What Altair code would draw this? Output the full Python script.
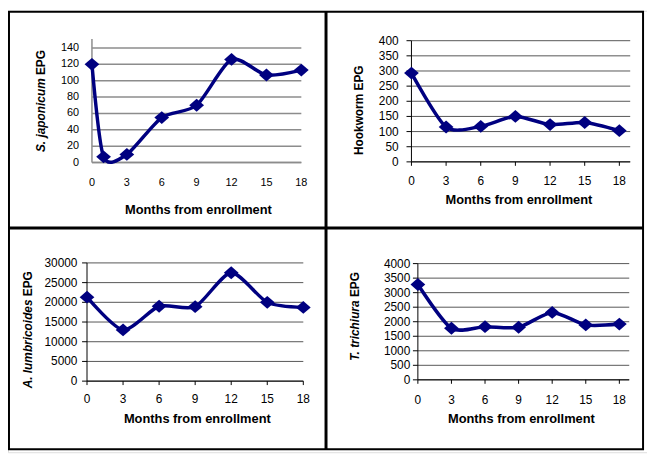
import altair as alt
import pandas as pd

# ---------------- data ----------------
months_sj = [0, 1, 3, 6, 9, 12, 15, 18]
sj_epg = [120, 7, 10, 55, 70, 126, 107, 113]

months = [0, 3, 6, 9, 12, 15, 18]
hook_epg = [293, 115, 117, 150, 123, 130, 103]
asc_epg = [21300, 13000, 19000, 18900, 27500, 20000, 18700]
tri_epg = [3280, 1775, 1830, 1810, 2320, 1890, 1920]

x_ticks = [0, 3, 6, 9, 12, 15, 18]
sj_ticks = [0, 20, 40, 60, 80, 100, 120, 140]
hook_ticks = [0, 50, 100, 150, 200, 250, 300, 350, 400]
asc_ticks = [0, 5000, 10000, 15000, 20000, 25000, 30000]
tri_ticks = [0, 500, 1000, 1500, 2000, 2500, 3000, 3500, 4000]

x_title = "Months from enrollment"
sj_title = ["S. japonicum", "EPG"]
hook_title = ["Hookworm EPG"]
asc_title = ["A. lumbricoides", "EPG"]
tri_title = ["T. trichiura", "EPG"]

# ---------------- styling ----------------
FONT = "Liberation Sans"
NAVY = "#000080"
DIAMOND = "M-1.15,0L0,-1L1.15,0L0,1Z"
W, H = 647, 447


def one(text=""):
    return pd.DataFrame({"t": [text]})


def title_text(text, x, y, angle=0, align="center", italic=False, size=12):
    return alt.Chart(one(text)).mark_text(
        font=FONT, fontSize=size, fontWeight="bold",
        fontStyle="italic" if italic else "normal",
        angle=angle, align=align, baseline="middle", color="black",
    ).encode(text="t:N", x=alt.value(x), y=alt.value(y))


def vrule(x, y1, y2, color="black", width=1.0):
    return alt.Chart(one()).mark_rule(color=color, strokeWidth=width).encode(
        x=alt.value(x), y=alt.value(y1), y2=alt.value(y2))


def hrule(y, x1, x2, color="black", width=1.0):
    return alt.Chart(one()).mark_rule(color=color, strokeWidth=width).encode(
        y=alt.value(y), x=alt.value(x1), x2=alt.value(x2))


def panel(mo, vals, yticks, ymax, x0, x18, xgrid, ytop, ybot, first,
          ylab_gap, xlab_y, lab_size, ytitle, ytitle_pos, xtitle_pos):
    sx = alt.Scale(domain=[0, 18], range=[x0, x18], nice=False, zero=False)
    sy = alt.Scale(domain=[0, ymax], range=[ybot, ytop], nice=False, zero=False)
    df = pd.DataFrame({"m": mo, "v": vals})
    dy = pd.DataFrame({"v": yticks})
    dx = pd.DataFrame({"m": x_ticks})
    X = alt.X("m:Q", scale=sx, axis=None)
    Y = alt.Y("v:Q", scale=sy, axis=None)

    gcol, gw = ("#8c8c8c", 1.5) if first else ("#555555", 1.0)
    layers = []
    layers.append(alt.Chart(dy).mark_rule(color=gcol, strokeWidth=gw).encode(
        y=Y, x=alt.value(x0), x2=alt.value(xgrid)))
    if first:
        layers.append(vrule(x0, ytop - 9, ybot, color="#8c8c8c", width=1.5))
        layers.append(hrule(ybot, x0, xgrid, color="#8c8c8c", width=1.5))
    else:
        layers.append(alt.Chart(dy).mark_rule(color="black", strokeWidth=1).encode(
            y=Y, x=alt.value(x0 - 5), x2=alt.value(x0)))
        layers.append(alt.Chart(dx).mark_rule(color="black", strokeWidth=1).encode(
            x=X, y=alt.value(ybot), y2=alt.value(ybot + 4)))
        layers.append(vrule(x0, ytop, ybot))
        layers.append(hrule(ybot, x0, xgrid))
    layers.append(alt.Chart(dy).mark_text(
        align="right", baseline="middle", font=FONT, fontSize=lab_size, color="black"
    ).encode(y=Y, x=alt.value(x0 - ylab_gap), text=alt.Text("v:Q", format="d")))
    layers.append(alt.Chart(dx).mark_text(
        align="center", baseline="middle", font=FONT, fontSize=lab_size, color="black"
    ).encode(x=X, y=alt.value(xlab_y), text=alt.Text("m:Q", format="d")))

    base = alt.Chart(df).encode(x=X, y=Y)
    layers.append(base.mark_line(interpolate="cardinal", tension=0.25, color=NAVY,
                                 strokeWidth=3.5, strokeJoin="round"))
    layers.append(base.mark_point(shape=DIAMOND, filled=True, size=169, color=NAVY,
                                  opacity=1, strokeWidth=0))

    tx = ytitle_pos[0]
    if len(ytitle) == 1:
        layers.append(title_text(ytitle[0], tx, ytitle_pos[1], angle=270))
    else:
        layers.append(title_text(ytitle[0], tx, ytitle_pos[2], angle=270,
                                 align="right", italic=True))
        layers.append(title_text(ytitle[1], tx, ytitle_pos[1], angle=270, align="left"))
    layers.append(title_text(x_title, xtitle_pos[0], xtitle_pos[1], size=13))
    return alt.layer(*layers)


pA = panel(months_sj, sj_epg, sj_ticks, 140, 85, 297, 297, 37.7, 153.7, True,
           13, 174.7, 11, sj_title, (33.7, 65.1, 68.4), (192.8, 201.3))
pB = panel(months, hook_epg, hook_ticks, 400, 408.5, 619, 630, 30.3, 153, False,
           13, 172, 12, hook_title, (355.7, 100.7), (517.3, 192))
pC = panel(months, asc_epg, asc_ticks, 30000, 80, 299, 299, 255.3, 375, False,
           9.7, 392.7, 12, asc_title, (20, 289.0, 292.3), (191.7, 413.7))
pD = panel(months, tri_epg, tri_ticks, 4000, 415, 619, 629, 256, 373.7, False,
           7.7, 393.7, 12, tri_title, (351.7, 289.9, 293.3), (519.8, 413.7))

border = alt.Chart(one()).mark_rect(filled=False, color="black", stroke="black",
                                    strokeWidth=2).encode(
    x=alt.value(1), x2=alt.value(643), y=alt.value(1), y2=alt.value(444))
div_v = vrule(322, 1, 444, width=3)
div_h = hrule(220, 1, 643, width=3)

chart = alt.layer(border, div_v, div_h, pA, pB, pC, pD).resolve_scale(
    x="independent", y="independent"
).properties(
    width=W, height=H,
    autosize=alt.AutoSizeParams(type="none"),
    padding={"left": 0, "top": 0, "right": 0, "bottom": 0},
).configure_view(strokeWidth=0).configure(font=FONT, background="white")

chart.save("out.html", embed_options={"renderer": "svg", "actions": False})
